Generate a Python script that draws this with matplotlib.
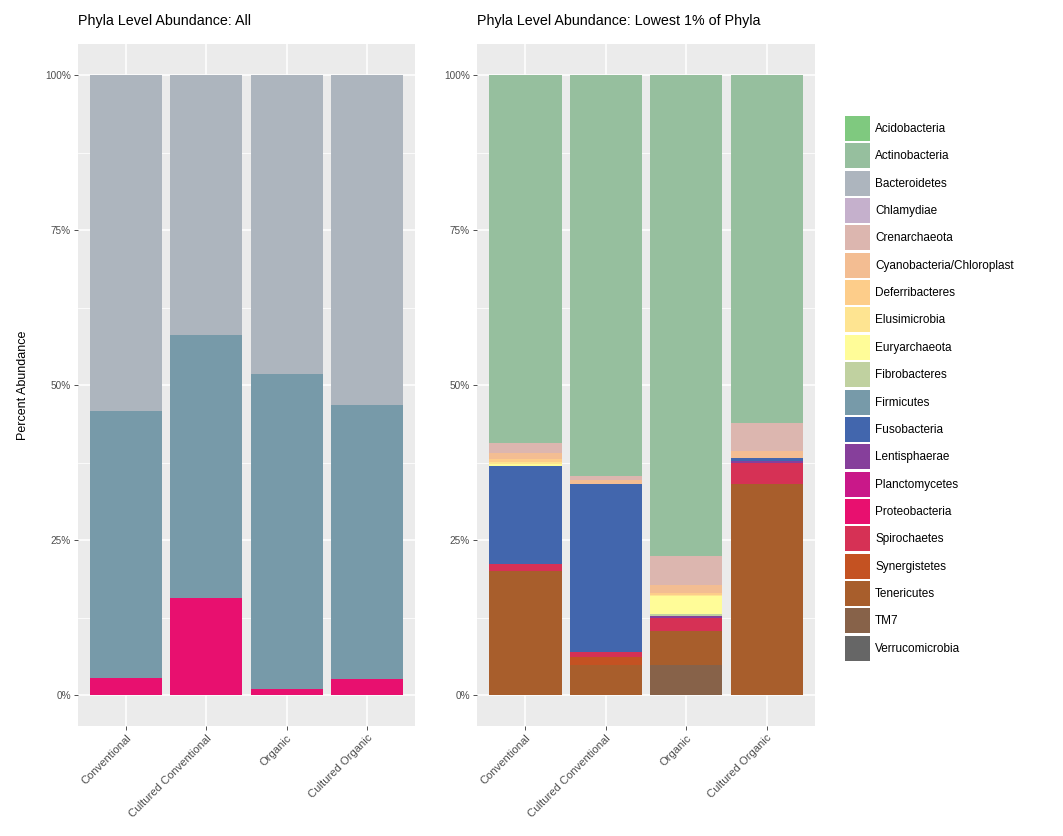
import matplotlib
matplotlib.use("Agg")
import matplotlib.pyplot as plt
from matplotlib.patches import Patch
import numpy as np

plt.rcParams['font.family'] = ['Liberation Sans', 'DejaVu Sans']

samples = ["Conventional", "Cultured Conventional", "Organic", "Cultured Organic"]

phyla = ["Acidobacteria", "Actinobacteria", "Bacteroidetes", "Chlamydiae", "Crenarchaeota",
         "Cyanobacteria/Chloroplast", "Deferribacteres", "Elusimicrobia", "Euryarchaeota",
         "Fibrobacteres", "Firmicutes", "Fusobacteria", "Lentisphaerae", "Planctomycetes",
         "Proteobacteria", "Spirochaetes", "Synergistetes", "Tenericutes", "TM7",
         "Verrucomicrobia"]

phyla_colors = ["#7FC97F", "#96BF9E", "#ADB5BE", "#C5B0CC", "#DCB6AF", "#F3BD92", "#FDCD8A",
                "#FEE491", "#FFFC98", "#C0D1A0", "#779AA9", "#4266AD", "#863F9B", "#C91889",
                "#E8106F", "#D63155", "#C45222", "#A85E2C", "#876249", "#666666"]

# All phyla (percent)
all_proteobacteria = [2.7, 15.7, 1.0, 2.6]
all_firmicutes = [43.1, 42.3, 50.7, 44.2]
all_bacteroidetes = [54.2, 42.0, 48.3, 53.2]

# Lowest 1% of phyla (percent of that subset)
low_tm7 = [0.0, 0.0, 4.9, 0.0]
low_tenericutes = [20.0, 4.9, 5.4, 34.0]
low_synergistetes = [0.0, 1.3, 0.0, 0.0]
low_spirochaetes = [1.1, 0.8, 2.1, 3.4]
low_lentisphaerae = [0.0, 0.0, 0.3, 0.3]
low_fusobacteria = [15.8, 27.0, 0.0, 0.6]
low_fibrobacteres = [0.0, 0.0, 0.3, 0.0]
low_euryarchaeota = [0.4, 0.0, 2.9, 0.0]
low_elusimicrobia = [0.3, 0.0, 0.3, 0.0]
low_deferribacteres = [0.5, 0.0, 0.3, 0.0]
low_cyanobacteria = [1.0, 0.6, 1.3, 1.0]
low_crenarchaeota = [1.6, 0.7, 4.6, 4.5]
low_actinobacteria = [59.3, 64.7, 77.6, 56.2]

all_table = {
    "Proteobacteria": all_proteobacteria,
    "Firmicutes": all_firmicutes,
    "Bacteroidetes": all_bacteroidetes,
}
low_table = {
    "TM7": low_tm7,
    "Tenericutes": low_tenericutes,
    "Synergistetes": low_synergistetes,
    "Spirochaetes": low_spirochaetes,
    "Lentisphaerae": low_lentisphaerae,
    "Fusobacteria": low_fusobacteria,
    "Fibrobacteres": low_fibrobacteres,
    "Euryarchaeota": low_euryarchaeota,
    "Elusimicrobia": low_elusimicrobia,
    "Deferribacteres": low_deferribacteres,
    "Cyanobacteria/Chloroplast": low_cyanobacteria,
    "Crenarchaeota": low_crenarchaeota,
    "Actinobacteria": low_actinobacteria,
}

color_of = dict(zip(phyla, phyla_colors))

W, H = 1063, 836
fig = plt.figure(figsize=(W / 100, H / 100), dpi=100)
fig.patch.set_facecolor("white")

ax_all = fig.add_axes([78 / W, 1 - 726 / H, (415 - 78) / W, 682 / H])
ax_low = fig.add_axes([477 / W, 1 - 726 / H, (815 - 477) / W, 682 / H])


def draw_stack(ax, table, title):
    x = np.arange(len(samples))
    bottom = np.zeros(len(samples))
    # stack from the last phylum (bottom) to the first (top)
    for name in reversed(phyla):
        if name not in table:
            continue
        vals = np.array(table[name], dtype=float)
        ax.bar(x, vals, width=0.9, bottom=bottom, color=color_of[name],
               edgecolor="none", linewidth=0, zorder=3)
        bottom += vals

    ax.set_facecolor("#EBEBEB")
    ax.set_xlim(-0.6, len(samples) - 0.4)
    ax.set_ylim(-5, 105)
    for s in ax.spines.values():
        s.set_visible(False)

    ax.set_yticks([0, 25, 50, 75, 100])
    ax.set_yticklabels(["0%", "25%", "50%", "75%", "100%"])
    ax.set_yticks([12.5, 37.5, 62.5, 87.5], minor=True)
    ax.set_xticks(x)
    ax.set_xticklabels(samples, rotation=45, ha="right", va="top",
                       rotation_mode="anchor", fontsize=8.1)
    ax.grid(True, which="major", color="white", linewidth=1.1, zorder=1)
    ax.grid(True, which="minor", axis="y", color="white", linewidth=0.55, zorder=1)
    ax.set_axisbelow(True)
    ax.tick_params(axis="both", which="major", length=3, width=0.6,
                   color="#333333", labelcolor="#4D4D4D", pad=2)
    ax.tick_params(axis="y", which="major", labelsize=7.2)
    ax.tick_params(axis="y", which="minor", length=0)
    ax.set_title(title, loc="left", fontsize=10.3, color="black", pad=14)


draw_stack(ax_all, all_table, "Phyla Level Abundance: All")
draw_stack(ax_low, low_table, "Phyla Level Abundance: Lowest 1% of Phyla")

ax_all.set_ylabel("Percent Abundance", fontsize=9, color="black", labelpad=12)

handles = [Patch(facecolor=c, edgecolor="none") for c in phyla_colors]
fig.legend(handles, phyla, loc="upper left", bbox_to_anchor=(845 / W, 1 - 116 / H),
           frameon=False, fontsize=8.5, handlelength=2.1, handleheight=2.88,
           handletextpad=0.45, labelspacing=0.2, borderpad=0, borderaxespad=0)

fig.savefig("out.png", dpi=100, facecolor="white")
